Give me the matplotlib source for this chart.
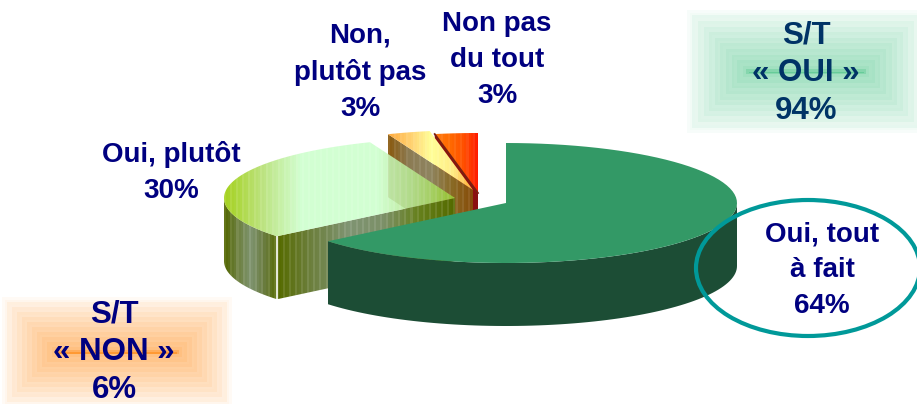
import matplotlib
matplotlib.use("Agg")
import matplotlib.pyplot as plt
from matplotlib.colors import LinearSegmentedColormap, to_rgb
from matplotlib.patches import Polygon, Ellipse, Rectangle
import numpy as np

# shares of the four answers, clockwise from the top of the pie
answers = ["Oui, tout\nà fait", "Oui, plutôt", "Non,\nplutôt pas", "Non pas\ndu tout"]
shares = [64, 30, 3, 3]
total_oui = 94
total_non = 6

plt.rcParams['font.family'] = ['Liberation Sans', 'DejaVu Sans']

NAVY = '#000080'
RX, RY, DEPTH = 231, 60, 63
# the apex of each exploded slice, in picture pixels
apexes = [(506, 203), (455, 198), (473, 190), (478, 193)]


def arc(cx, cy, a0, a1, drop=0):
    """Points on the rim, angles in degrees clockwise from the top"""
    a = np.radians(np.linspace(a0, a1, 80))
    return np.column_stack([cx + RX * np.sin(a), cy - RY * np.cos(a) + drop])


def stripes(ax, points, stops, width=2, ripple=0.0, alpha=1.0):
    """Fill a polygon with a striped left to right gradient"""
    poly = Polygon(points, closed=True, transform=ax.transData, fc='none', ec='none')
    ax.add_patch(poly)
    x0, x1 = points[:, 0].min(), points[:, 0].max()
    y0, y1 = points[:, 1].min(), points[:, 1].max()
    n = max(int((x1 - x0) / width), 2)
    cmap = LinearSegmentedColormap.from_list('s', stops)
    rows = np.array([cmap(i / (n - 1)) for i in range(n)])
    # every third stripe is a bit lighter, like the banding of the export
    rows[::3, :3] = rows[::3, :3] + (1 - rows[::3, :3]) * ripple
    rows[:, 3] = alpha
    im = ax.imshow(rows[np.newaxis, :, :], extent=(x0, x1, y1, y0), aspect='auto',
                   interpolation='nearest', zorder=poly.get_zorder())
    im.set_clip_path(poly)
    return im


def glow_box(ax, x0, y0, x1, y1, color, steps=24):
    """Rectangles stepping in from white at the edge to the colour in the middle"""
    inset = min(x1 - x0, y1 - y0) / 2
    base = np.array(to_rgb(color))
    for i in range(steps):
        t = i / (steps - 1)
        mix = 0.62 * t ** 0.8
        if i % 2 and i > 1:
            mix += 0.04  # visible rings in the original gradient
        if i == steps - 1:
            mix = 1.0
        elif i == steps - 2:
            mix = 0.8
        d = inset * t
        rgb = 1 - (1 - base) * mix
        ax.add_patch(Rectangle((x0 + d, y0 + d), x1 - x0 - 2 * d, max(y1 - y0 - 2 * d, 1.5),
                               fc=rgb, ec='none', zorder=1))


fig = plt.figure(figsize=(9.17, 4.04), dpi=100)
ax = fig.add_axes([0, 0, 1, 1])
ax.axis('off')

glow_box(ax, 684, 7, 928, 136, '#66cc99')
glow_box(ax, 0, 295, 234, 409, '#ff9933')

edges = np.cumsum([0] + shares) * 3.6

# red slice, furthest back
ap = apexes[3]
a0, a1 = edges[3], edges[4]
face = np.array([arc(*ap, a0, a0)[0], ap, (ap[0], ap[1] + DEPTH), arc(*ap, a0, a0, DEPTH)[0]])
ax.add_patch(Polygon(face, fc='#8b1010', ec='none', zorder=2))
top = np.vstack([[ap], arc(*ap, a0, a1)])
im = stripes(ax, top, ['#ff7a10', '#ff6a00', '#ff5000', '#ff1a00'], ripple=0.06)
im.set_zorder(3)
ax.plot([top[1, 0], ap[0]], [top[1, 1], ap[1]], color='#7a2010', lw=1.3, zorder=3)

# pale orange slice
ap = apexes[2]
a0, a1 = edges[2], edges[3]
tip = arc(*ap, a0, a0)[0]
face = np.array([tip, ap, (ap[0], ap[1] + DEPTH), (tip[0], tip[1] + DEPTH)])
im = stripes(ax, face, ['#8a5a10', '#8c7c55', '#8f8560', '#8a6a25', '#874a08'], ripple=0.08)
im.set_zorder(4)
top = np.vstack([[ap], arc(*ap, a0, a1)])
im = stripes(ax, top, ['#ffaa3c', '#ffd070', '#ffff99', '#ffee88', '#ffaa30'], ripple=0.08)
im.set_zorder(5)

# light green slice
ap = apexes[1]
a0, a1 = edges[1], edges[2]
tip = arc(*ap, a0, a0)[0]
rim = np.vstack([arc(*ap, a0, 270), arc(*ap, 270, a0, DEPTH)])
im = stripes(ax, rim, ['#526600', '#6d8040', '#7f9470', '#6a7c40', '#566b00'], ripple=0.10)
im.set_zorder(6)
face = np.array([tip, ap, (ap[0], ap[1] + DEPTH), (tip[0], tip[1] + DEPTH)])
im = stripes(ax, face, ['#566b00', '#6d8040', '#7f9472', '#7c9068', '#66801c', '#556b00'], ripple=0.10)
im.set_zorder(6)
ax.plot([tip[0], tip[0]], [tip[1], tip[1] + DEPTH], color='white', lw=1.2, zorder=6)
top = np.vstack([[ap], arc(*ap, a0, a1)])
im = stripes(ax, top, ['#99cc00', '#b4e070', '#ccffcc', '#ccffcc', '#ccffcc', '#b4e488', '#99cc33'],
             ripple=0.10, alpha=0.88)
im.set_zorder(7)

# big green slice in front
ap = apexes[0]
a0, a1 = edges[0], edges[1]
side = np.vstack([arc(*ap, 90, a1), arc(*ap, a1, 90, DEPTH)])
ax.add_patch(Polygon(side, fc='#1c4d35', ec='none', zorder=8))
top = np.vstack([[ap], arc(*ap, a0, a1)])
ax.add_patch(Polygon(top, fc='#339966', ec='none', zorder=9))

ax.add_patch(Ellipse((808, 268), 224, 136, fc='none', ec='#009999', lw=3, zorder=10))

label_pos = [(822, 270), (171, 173), (360, 72), (497, 60)]
for name, share, (x, y) in zip(answers, shares, label_pos):
    ax.text(x, y, "%s\n%d%%" % (name, share), color=NAVY, fontsize=20, fontweight='bold',
            ha='center', va='center', linespacing=1.5, zorder=11)
ax.text(806, 73, "S/T\n« OUI »\n%d%%" % total_oui, color='#003366', fontsize=22.5, fontweight='bold',
        ha='center', va='center', linespacing=1.33, zorder=11)
ax.text(114, 352, "S/T\n« NON »\n%d%%" % total_non, color=NAVY, fontsize=22.5, fontweight='bold',
        ha='center', va='center', linespacing=1.33, zorder=11)

ax.set_xlim(0, 917)
ax.set_ylim(404, 0)
plt.savefig('out.png', dpi=100)
